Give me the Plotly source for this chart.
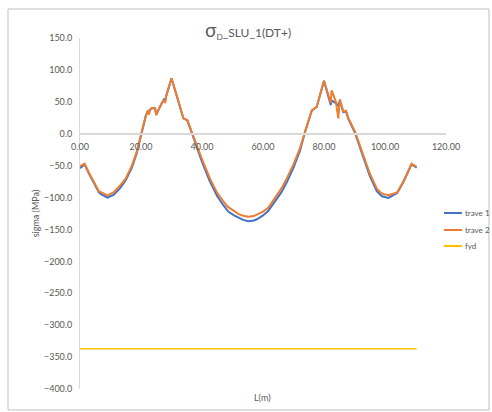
import plotly.graph_objects as go

# Position along the beam (m)
L = [0, 1.5, 3, 5, 6.2, 7, 9, 11, 13, 15, 17, 18.5, 19.5, 20.2, 20.6, 21.6, 22.3, 22.6,
     22.9, 23.5, 24.6, 25.0, 26.0, 26.8, 27.6, 27.9, 28.2, 30.0, 32, 33.9, 35.2, 36.6, 38,
     40, 42.6, 45, 47, 48.6, 50.5, 52, 53.5, 55.2, 57, 58, 60, 61.7, 64, 66, 67.8, 70,
     72.1, 73.8, 76, 77.6, 80, 81.5,
     82.2, 82.5, 83.9, 84.7, 85.2, 86.3, 87.2, 88, 90.2, 92.9, 95, 97.3, 99, 101.1, 103,
     104, 106, 108.7, 110.4]

# Stress sigma (MPa) for each beam
trave_1 = [-54, -48, -63, -82, -92, -95, -100, -96, -86, -73, -53, -32, -12, 1, 6, 28, 36, 31,
           37, 40, 40, 30, 40, 48, 55, 50, 58, 87, 55, 24, 21, 2, -17,
           -44, -75, -98, -112, -122, -128, -132, -135, -137, -136, -134, -128, -121, -106, -92,
           -76, -53, -27, 3, 36, 42, 83, 58,
           45, 52, 48, 44, 52, 34, 35, 23, 1, -37, -66, -90, -98, -100.5, -96,
           -93, -76, -48, -53]
trave_2 = [-51, -47, -62, -80, -90, -92, -96.5, -92, -82, -70, -50, -30, -10, 2, 8, 29, 37, 30,
           38, 40, 40, 29, 40, 48, 53, 48, 58, 87, 55, 24, 21, 3, -15,
           -40, -70, -93, -106, -115, -121, -126, -128.5, -130, -129, -127, -122, -116, -100, -86,
           -70, -48, -23, 5, 37, 42, 83, 60,
           48, 68, 50, 24, 54, 35, 36, 24, 3, -34, -62, -86, -94, -96.5, -94,
           -92, -75, -47, -52]

# Design strength
fyd_L = [0, 110.4]
fyd = [-337, -337]

y_ticks = [150, 100, 50, 0, -50, -100, -150, -200, -250, -300, -350, -400]
x_ticks = [0, 20, 40, 60, 80, 100, 120]

series_names = ["trave 1", "trave 2", "fyd"]
series_colors = ["#4472C4", "#ED7D31", "#FFC000"]

FONT = "Lato, 'Open Sans', sans-serif"
GREY = "#595959"

# plot-area geometry in pixels
W, H = 492, 412
ML, MR, MT, MB = 80, 46, 38, 23
PW, PH = W - ML - MR, H - MT - MB


def px_x(p):
    return (p - ML) / PW


def px_y(p):
    return (H - MB - p) / PH


fig = go.Figure()
for yv, xv, name, col, w in [(trave_1, L, series_names[0], series_colors[0], 2),
                             (trave_2, L, series_names[1], series_colors[1], 2),
                             (fyd, fyd_L, series_names[2], series_colors[2], 1.5)]:
    fig.add_trace(go.Scatter(x=xv, y=yv, mode="lines", name=name,
                             line=dict(color=col, width=w), showlegend=False))

# legend drawn as line samples plus labels
legend_rows = [213, 230, 246]
shapes = [
    dict(type="rect", xref="paper", yref="paper",
         x0=px_x(8), x1=px_x(489), y0=px_y(410), y1=px_y(9),
         line=dict(color="#bfbfbf", width=1), fillcolor="rgba(0,0,0,0)", layer="below"),
]
annotations = [
    dict(text="<span style='font-size:19px'>σ</span><sub>D</sub>_SLU_1(DT+)",
         x=px_x(248), y=px_y(30), xref="paper", yref="paper", showarrow=False,
         xanchor="center", yanchor="middle",
         font=dict(size=12, color=GREY, family=FONT)),
    dict(text="L(m)", x=px_x(262), y=px_y(397), xref="paper", yref="paper",
         xanchor="center", yanchor="middle",
         showarrow=False, font=dict(size=9, color=GREY, family=FONT)),
]
for row, name, col in zip(legend_rows, series_names, series_colors):
    shapes.append(dict(type="line", xref="paper", yref="paper",
                       x0=px_x(444), x1=px_x(462), y0=px_y(row), y1=px_y(row),
                       line=dict(color=col, width=2)))
    annotations.append(dict(text=name, x=px_x(463), y=px_y(row), xref="paper", yref="paper",
                            xanchor="left", yanchor="middle", showarrow=False,
                            font=dict(size=8, color=GREY, family=FONT)))

ymin, ymax = -400, 150
fig.update_layout(
    width=W, height=H,
    margin=dict(l=ML, r=MR, t=MT, b=MB, autoexpand=False),
    paper_bgcolor="white", plot_bgcolor="white",
    font=dict(family=FONT, color=GREY, size=9),
    showlegend=False,
    xaxis=dict(range=[0, 120], tickvals=x_ticks, tickformat=".2f",
               showgrid=False, zeroline=False, showline=True, linecolor="#d9d9d9",
               linewidth=1.5, anchor="free", position=(0 - ymin) / (ymax - ymin),
               ticks="", ticklabelstandoff=5, tickfont=dict(size=9, color=GREY)),
    yaxis=dict(range=[ymin, ymax], tickvals=y_ticks, tickformat=".1f",
               showgrid=False, zeroline=False, showline=True, linecolor="#d9d9d9",
               linewidth=1, ticks="", ticklabelstandoff=5, tickfont=dict(size=9, color=GREY),
               title=dict(text="sigma (MPa)", font=dict(size=9, color=GREY), standoff=2)),
    annotations=annotations,
    shapes=shapes,
)

fig.write_html("out.html")
